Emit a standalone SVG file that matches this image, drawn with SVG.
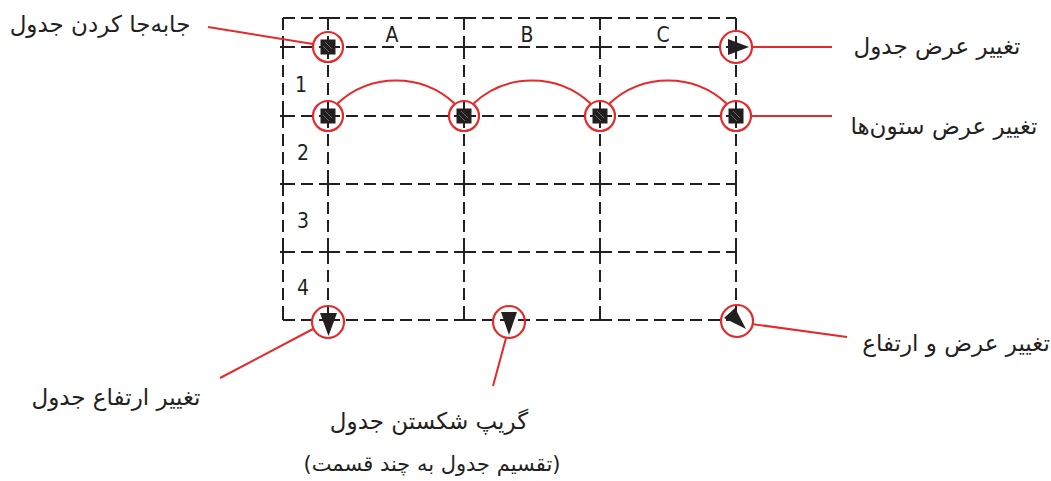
<svg xmlns="http://www.w3.org/2000/svg" width="1051" height="481" viewBox="0 0 1051 481">
<style>
.g{stroke:#231f20;stroke-width:2;fill:none;stroke-dasharray:12 6}
.s{stroke:#231f20;stroke-width:2;fill:none}
.r{stroke:#e42a2a;stroke-width:2;fill:none}
.c{stroke:#e42a2a;stroke-width:2.2;fill:none}
.sq{fill:#231f20}
.h{stroke:#8a8a8a;stroke-width:0.7}
.tri{fill:#231f20}
.lt{font-family:"DejaVu Sans Condensed","DejaVu Sans",sans-serif;font-stretch:condensed;font-size:21px;fill:#231f20;text-anchor:middle}
.fa{font-family:"DejaVu Sans",sans-serif;font-size:23px;fill:#231f20;text-anchor:middle;direction:rtl}
</style>
<defs>
<g id="sqg">
<rect class="sq" x="-7.5" y="-7.5" width="15" height="15"/>
<line class="h" x1="-3" y1="-5" x2="4" y2="2"/>
<line class="h" x1="-5" y1="-1" x2="1" y2="5"/>
</g>
</defs>
<g id="grid">
<line class="g" x1="283" y1="18" x2="328" y2="18"/>
<line class="g" x1="328" y1="18" x2="464" y2="18"/>
<line class="g" x1="464" y1="18" x2="600" y2="18"/>
<line class="g" x1="600" y1="18" x2="736" y2="18"/>
<line class="g" x1="283" y1="47" x2="328" y2="47"/>
<line class="g" x1="328" y1="47" x2="464" y2="47"/>
<line class="g" x1="464" y1="47" x2="600" y2="47"/>
<line class="g" x1="600" y1="47" x2="736" y2="47"/>
<line class="g" x1="283" y1="116" x2="328" y2="116"/>
<line class="g" x1="328" y1="116" x2="464" y2="116"/>
<line class="g" x1="464" y1="116" x2="600" y2="116"/>
<line class="g" x1="600" y1="116" x2="736" y2="116"/>
<line class="g" x1="283" y1="184" x2="328" y2="184"/>
<line class="g" x1="328" y1="184" x2="464" y2="184"/>
<line class="g" x1="464" y1="184" x2="600" y2="184"/>
<line class="g" x1="600" y1="184" x2="736" y2="184"/>
<line class="g" x1="283" y1="252" x2="328" y2="252"/>
<line class="g" x1="328" y1="252" x2="464" y2="252"/>
<line class="g" x1="464" y1="252" x2="600" y2="252"/>
<line class="g" x1="600" y1="252" x2="736" y2="252"/>
<line class="g" x1="283" y1="320" x2="328" y2="320"/>
<line class="g" x1="328" y1="320" x2="464" y2="320"/>
<line class="g" x1="464" y1="320" x2="600" y2="320"/>
<line class="g" x1="600" y1="320" x2="736" y2="320"/>
<line class="g" x1="283" y1="18" x2="283" y2="47"/>
<line class="g" x1="283" y1="47" x2="283" y2="116"/>
<line class="g" x1="283" y1="116" x2="283" y2="184"/>
<line class="g" x1="283" y1="184" x2="283" y2="252"/>
<line class="g" x1="283" y1="252" x2="283" y2="320"/>
<line class="g" x1="328" y1="18" x2="328" y2="47"/>
<line class="g" x1="328" y1="47" x2="328" y2="116"/>
<line class="g" x1="328" y1="116" x2="328" y2="184"/>
<line class="g" x1="328" y1="184" x2="328" y2="252"/>
<line class="g" x1="328" y1="252" x2="328" y2="320"/>
<line class="g" x1="464" y1="18" x2="464" y2="47"/>
<line class="g" x1="464" y1="47" x2="464" y2="116"/>
<line class="g" x1="464" y1="116" x2="464" y2="184"/>
<line class="g" x1="464" y1="184" x2="464" y2="252"/>
<line class="g" x1="464" y1="252" x2="464" y2="320"/>
<line class="g" x1="600" y1="18" x2="600" y2="47"/>
<line class="g" x1="600" y1="47" x2="600" y2="116"/>
<line class="g" x1="600" y1="116" x2="600" y2="184"/>
<line class="g" x1="600" y1="184" x2="600" y2="252"/>
<line class="g" x1="600" y1="252" x2="600" y2="320"/>
<line class="g" x1="736" y1="18" x2="736" y2="47"/>
<line class="g" x1="736" y1="47" x2="736" y2="116"/>
<line class="g" x1="736" y1="116" x2="736" y2="184"/>
<line class="g" x1="736" y1="184" x2="736" y2="252"/>
<line class="g" x1="736" y1="252" x2="736" y2="320"/>
<path class="s" d="M283,18h6M283,18v6M736,18h-6M736,18v6M283,320h6M283,320v-6M736,320h-6M736,320v-6"/>
<path class="s" d="M322,47h12M328,41v12M458,47h12M464,41v12M594,47h12M600,41v12M730,47h6M283,47h6M280,47h3M736,47h-6"/>
<path class="s" d="M280,116h9M458,116h12M594,116h12M283,110v12M283,178v12M283,246v12M280,184h9M280,252h9M322,184h12M328,178v12M322,252h12M328,246v12M458,184h12M464,178v12M458,252h12M464,246v12M594,184h12M600,178v12M594,252h12M600,246v12M730,184h6M736,178v12M730,252h6M736,246v12M328,18v6M464,18v6M600,18v6M464,320v-6M600,320v-6"/>
</g>
<g id="labels-grid">
<text class="lt" x="392" y="42">A</text>
<text class="lt" x="527" y="42">B</text>
<text class="lt" x="663" y="42">C</text>
<text class="lt" x="301" y="92">1</text>
<text class="lt" x="303" y="160">2</text>
<text class="lt" x="303" y="228">3</text>
<text class="lt" x="303" y="295">4</text>
</g>
<g id="connectors">
<path class="r" d="M337,104 A86,86 0 0 1 455,104"/>
<path class="r" d="M473,104 A86,86 0 0 1 591,104"/>
<path class="r" d="M609,104 A86,86 0 0 1 727,104"/>
<line class="r" x1="208" y1="27" x2="313" y2="44"/>
<line class="r" x1="752" y1="47" x2="832" y2="47"/>
<line class="r" x1="751" y1="116" x2="832" y2="116"/>
<line class="r" x1="752" y1="324" x2="847" y2="337"/>
<line class="r" x1="313" y1="329" x2="220" y2="378"/>
<line class="r" x1="506" y1="338" x2="493" y2="386"/>
</g>
<g id="grip-move">
<use href="#sqg" x="328" y="47"/>
<circle class="c" cx="328" cy="47" r="15"/>
</g>
<g id="grip-width">
<polygon class="tri" points="728,39 728,55 749,47"/>
<circle class="c" cx="736" cy="47" r="16"/>
</g>
<g id="grip-col1">
<use href="#sqg" x="328" y="116"/>
<circle class="c" cx="328" cy="116" r="15"/>
</g>
<g id="grip-col2">
<use href="#sqg" x="464" y="116"/>
<circle class="c" cx="464" cy="116" r="15"/>
</g>
<g id="grip-col3">
<use href="#sqg" x="600" y="116"/>
<circle class="c" cx="600" cy="116" r="15"/>
</g>
<g id="grip-col4">
<use href="#sqg" x="736" y="116"/>
<circle class="c" cx="736" cy="116" r="15"/>
</g>
<g id="grip-height">
<polygon class="tri" points="320,313 337,313 328.5,336"/>
<circle class="c" cx="328" cy="322" r="16"/>
</g>
<g id="grip-break">
<polygon class="tri" points="501,312 517,312 509,335"/>
<circle class="c" cx="509" cy="322" r="16"/>
</g>
<g id="grip-both">
<polygon class="tri" points="724,318 735,308 746,329"/>
<circle class="c" cx="737" cy="321" r="16"/>
</g>
<g id="texts">
<text class="fa" x="100" y="32">جابه‌جا کردن جدول</text>
<text class="fa" x="937" y="54">تغییر عرض جدول</text>
<text class="fa" x="944" y="134">تغییر عرض ستون‌ها</text>
<text class="fa" x="956" y="351">تغییر عرض و ارتفاع</text>
<text class="fa" x="116" y="405">تغییر ارتفاع جدول</text>
<text class="fa" x="429" y="429">گریپ شکستن جدول</text>
<text class="fa" x="432" y="471" style="font-size:21px">(تقسیم جدول به چند قسمت)</text>
</g>
</svg>
